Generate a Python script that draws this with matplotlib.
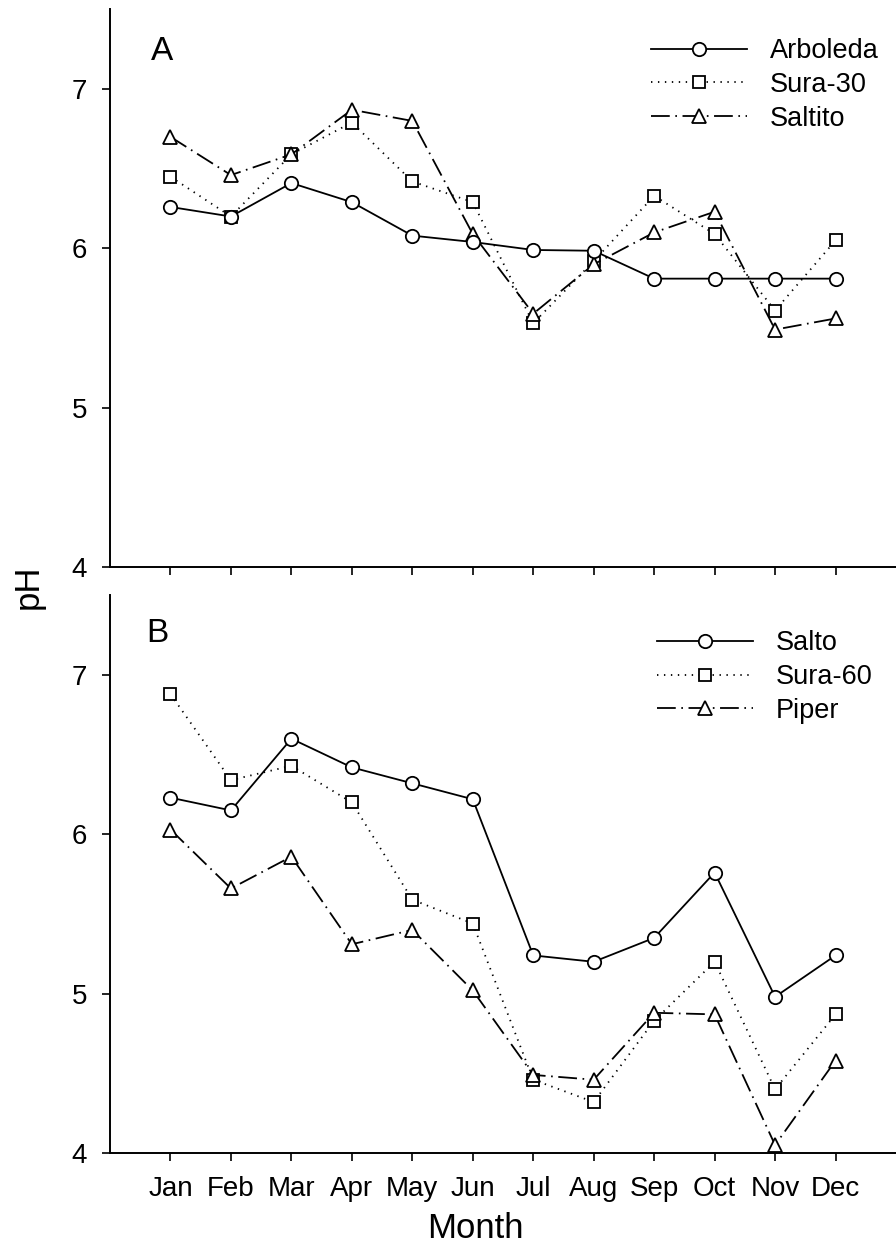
import matplotlib
matplotlib.use("Agg")
import matplotlib.pyplot as plt
from matplotlib.lines import Line2D

plt.rcParams['font.family'] = ['Liberation Sans', 'DejaVu Sans']
plt.rcParams['lines.scale_dashes'] = False

months = ["Jan", "Feb", "Mar", "Apr", "May", "Jun", "Jul", "Aug", "Sep", "Oct", "Nov", "Dec"]
month_pos = list(range(1, 13))

# Panel A
arboleda = [6.26, 6.20, 6.41, 6.29, 6.08, 6.04, 5.99, 5.985, 5.81, 5.81, 5.81, 5.81]
sura30 = [6.45, 6.20, 6.59, 6.79, 6.42, 6.29, 5.53, 5.92, 6.33, 6.09, 5.61, 6.05]
saltito = [6.70, 6.46, 6.59, 6.87, 6.80, 6.09, 5.59, 5.90, 6.10, 6.23, 5.49, 5.56]

# Panel B
salto = [6.23, 6.15, 6.60, 6.42, 6.32, 6.22, 5.24, 5.20, 5.35, 5.76, 4.98, 5.24]
sura60 = [6.88, 6.34, 6.43, 6.20, 5.59, 5.44, 4.46, 4.32, 4.83, 5.20, 4.40, 4.87]
piper = [6.03, 5.66, 5.86, 5.31, 5.40, 5.02, 4.49, 4.46, 4.88, 4.87, 4.05, 4.58]

yticks = [4, 5, 6, 7]

W, H = 896, 1259
fig = plt.figure(figsize=(W / 100, H / 100), dpi=100)

left = 110 / W
axA = fig.add_axes([left, 1 - 567 / H, 1 - left, (567 - 9.4) / H])
axB = fig.add_axes([left, 1 - 1153 / H, 1 - left, (1153 - 595.3) / H])

lw = 1.3
ms_c, ms_s, ms_t = 9.6, 9.0, 9.4
solid = dict(color='black', linestyle='-', linewidth=lw, marker='o', markersize=ms_c,
             markerfacecolor='white', markeredgecolor='black', markeredgewidth=1.3)
dotted = dict(color='black', linestyle=(0, (1.0, 4.0)), linewidth=lw, marker='s', markersize=ms_s,
              markerfacecolor='white', markeredgecolor='black', markeredgewidth=1.3)
dashdot = dict(color='black', linestyle=(0, (13.5, 4.0, 1.2, 4.0)), linewidth=lw, marker='^',
               markersize=ms_t, markerfacecolor='white', markeredgecolor='black', markeredgewidth=1.3)

tick_fs = 20
leg_fs = 19.5


def style_axis(ax, show_labels):
    ax.set_xlim(0, 13)
    ax.set_ylim(4, 7.5)
    ax.spines['top'].set_visible(False)
    ax.spines['right'].set_visible(False)
    ax.spines['left'].set_linewidth(1.4)
    ax.spines['bottom'].set_linewidth(1.4)
    ax.set_xticks(month_pos)
    ax.set_yticks(yticks)
    ax.set_yticklabels([str(v) for v in yticks])
    if show_labels:
        ax.set_xticklabels(months)
    else:
        ax.set_xticklabels([])
    ax.tick_params(axis='both', direction='out', length=5.5, width=1.2, labelsize=tick_fs)
    ax.tick_params(axis='x', pad=11)
    ax.tick_params(axis='y', pad=11)


leg_kw = dict(loc='upper left', frameon=False, fontsize=leg_fs, handlelength=3.55,
              handletextpad=0.85, labelspacing=0.28, borderpad=0, borderaxespad=0)

# Panel A
axA.plot(month_pos, sura30, label='Sura-30', zorder=2, **dotted)
axA.plot(month_pos, saltito, label='Saltito', zorder=3, **dashdot)
axA.plot(month_pos, arboleda, label='Arboleda', zorder=4, **solid)
style_axis(axA, False)
hA = [Line2D([], [], **solid), Line2D([], [], **dotted), Line2D([], [], **dashdot)]
axA.legend(hA, ['Arboleda', 'Sura-30', 'Saltito'], bbox_to_anchor=(0.688, 0.948), **leg_kw)
fig.text(162 / W, 1 - 51 / H, 'A', fontsize=24, ha='center', va='center')

# Panel B
axB.plot(month_pos, sura60, label='Sura-60', zorder=2, **dotted)
axB.plot(month_pos, piper, label='Piper', zorder=3, **dashdot)
axB.plot(month_pos, salto, label='Salto', zorder=4, **solid)
style_axis(axB, True)
hB = [Line2D([], [], **solid), Line2D([], [], **dotted), Line2D([], [], **dashdot)]
axB.legend(hB, ['Salto', 'Sura-60', 'Piper'], bbox_to_anchor=(0.696, 0.937), **leg_kw)
fig.text(157 / W, 1 - 634 / H, 'B', fontsize=24, ha='center', va='center')

fig.text(28 / W, 1 - 587 / H, 'pH', fontsize=25, rotation=90, ha='center', va='center')
fig.text(475 / W, 1 - 1229 / H, 'Month', fontsize=25, ha='center', va='center')

fig.savefig('out.png', dpi=100)
